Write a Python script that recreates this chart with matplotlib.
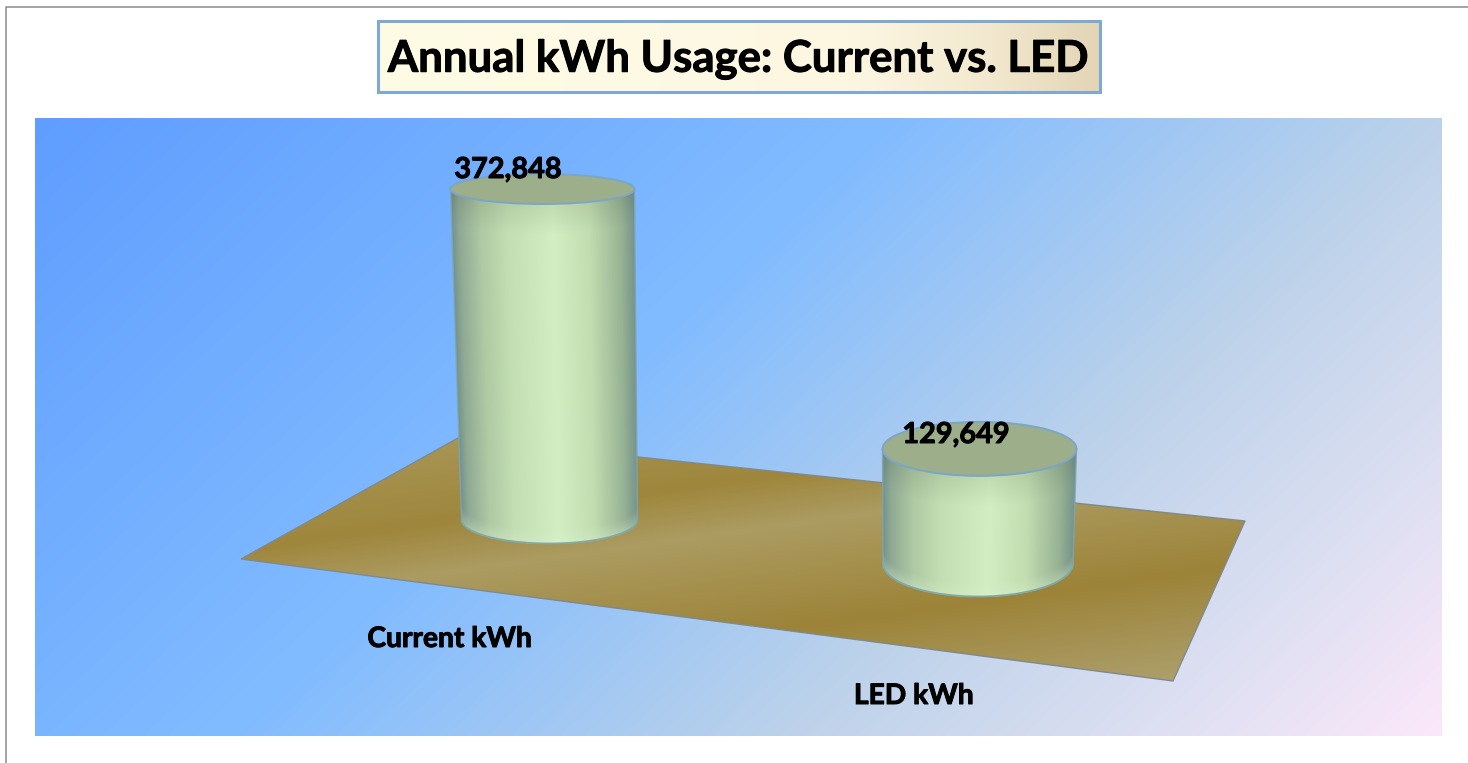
#!/usr/bin/env python

import numpy as np
import matplotlib
matplotlib.use('Agg')
from matplotlib import pyplot as plt
from matplotlib import patheffects
from matplotlib.colors import to_rgb
from matplotlib.patches import Ellipse, Polygon, Rectangle

categories = ['Current kWh', 'LED kWh']
kwh_values = [372848, 129649]
chart_title = 'Annual kWh Usage: Current vs. LED'

W, H = 1468, 763
PX_PER_KWH = 331 / 372848

# cylinder geometry in pixels, base centre x/y and half sizes
base_cx = [549.5, 978]
base_cy = [520, 564]
base_rx = [88, 95]
base_ry = [24, 33]
top_cx = [542.5, 979.5]
top_rx = [92, 97]
top_ry = [15, 27]

BOLDER = [patheffects.withStroke(linewidth=0.7, foreground='black')]


def Ramp(t, stops, colors):
    rgb = np.array([to_rgb(c) for c in colors])
    return np.dstack([np.interp(t, stops, rgb[:, i]) for i in range(3)])


def Paint(axe, rgb, x0, x1, y0, y1, clip=None, zorder=1):
    im = axe.imshow(rgb, extent=(x0, x1, y1, y0), aspect='auto',
                    interpolation='bilinear', zorder=zorder)
    if clip is not None:
        im.set_clip_path(clip)
    return im


def DrawBackground(axe):
    x0, x1, y0, y1 = 35, 1442, 118, 736
    xx, yy = np.meshgrid(np.arange(x0, x1), np.arange(y0, y1))
    t = (xx - x0) + 1.07 * (yy - y0)
    t = t / t.max()
    rgb = Ramp(t, [0, 0.42, 0.68, 0.85, 1],
               ['#5f9dff', '#82bcff', '#bcd2ea', '#dcdff2', '#fce8fa'])
    Paint(axe, rgb, x0, x1, y0, y1)


def DrawTitle(axe):
    x0, x1, y0, y1 = 378, 1100, 21, 92
    xx, yy = np.meshgrid(np.arange(x0, x1), np.arange(y0, y1))
    t = (xx - x0) / (x1 - x0)
    rgb = Ramp(t, [0, 0.65, 0.85, 1], ['#fffce6', '#fdf7e2', '#f2e8cf', '#e3d5b5'])
    Paint(axe, rgb, x0, x1, y0, y1, zorder=2)
    axe.add_patch(Rectangle((x0, y0), x1 - x0, y1 - y0, fill=False,
                            ec='#7fa9d3', lw=2.2, zorder=3))
    axe.text(738, 59, chart_title, ha='center', va='center', fontsize=31.5,
             fontweight='bold', family='Lato', color='black', zorder=4,
             path_effects=BOLDER)


def DrawFloor(axe):
    corners = [(241, 559), (458, 438), (1245, 521), (1173, 681)]
    xx, yy = np.meshgrid(np.arange(235, 1250), np.arange(432, 686))
    v = yy + 0.14 * (xx - 241)
    rgb = Ramp(v, [440, 550, 600, 705, 810],
               ['#ab9b5c', '#9e863c', '#ac9c62', '#9c8338', '#ad9f6c'])
    clip = Polygon(corners, closed=True, transform=axe.transData)
    Paint(axe, rgb, 235, 1250, 432, 686, clip=clip, zorder=2)
    axe.add_patch(Polygon(corners, closed=True, fill=False, ec='#7f8a8c', lw=1.0, zorder=3))


def DrawCylinder(axe, i, value):
    base_y = base_cy[i]
    top_y = base_y - value * PX_PER_KWH
    ys = np.arange(int(top_y) - 2, base_y + base_ry[i] + 3)
    frac = np.clip((ys - top_y) / (base_y - top_y), 0, 1)
    cx = top_cx[i] + frac * (base_cx[i] - top_cx[i])
    rx = top_rx[i] + frac * (base_rx[i] - top_rx[i])
    x0 = int(min(top_cx[i] - top_rx[i], base_cx[i] - base_rx[i])) - 3
    x1 = int(max(top_cx[i] + top_rx[i], base_cx[i] + base_rx[i])) + 3
    xx, yy = np.meshgrid(np.arange(x0, x1), ys)
    cx2 = np.interp(yy, ys, cx)
    rx2 = np.interp(yy, ys, rx)
    u = (xx - (cx2 - rx2)) / (2 * rx2)
    rgb = Ramp(u, [0, 0.04, 0.16, 0.3, 0.55, 0.75, 0.92, 1],
               ['#74948a', '#8fa994', '#afcaa4', '#c2deb2', '#d3eec2', '#c2ddb0', '#98b394', '#74928a'])
    # shade falling off under the lid
    dist = yy - top_y - top_ry[i] * np.sqrt(np.clip(1 - ((xx - top_cx[i]) / top_rx[i]) ** 2, 0, 1))
    shade = np.clip(1 - dist / 30, 0, 1)[:, :, None] * 0.08
    rgb = rgb * (1 - shade)
    # light rim at the foot
    foot_d = base_y + base_ry[i] * np.sqrt(np.clip(1 - ((xx - base_cx[i]) / base_rx[i]) ** 2, 0, 1)) - yy
    rim = np.clip(1 - foot_d / 14, 0, 1)[:, :, None] * 0.35
    rgb = rgb * (1 - rim) + np.array(to_rgb('#d9f2d0')) * rim

    # outline: round the foot and back over the lid
    a = np.linspace(0, np.pi, 80)
    foot = np.column_stack([base_cx[i] + base_rx[i] * np.cos(a), base_y + base_ry[i] * np.sin(a)])
    b = np.linspace(np.pi, 2 * np.pi, 80)
    lid = np.column_stack([top_cx[i] + top_rx[i] * np.cos(b), top_y + top_ry[i] * np.sin(b)])
    outline = np.vstack([foot, lid])
    clip = Polygon(outline, closed=True, transform=axe.transData)
    Paint(axe, rgb, x0, x1, ys[0], ys[-1], clip=clip, zorder=4)
    axe.plot(foot[:, 0], foot[:, 1] - 0.5, color='#7fa8a8', lw=1.3, zorder=5)
    for side in (-1, 1):
        axe.plot([top_cx[i] + side * top_rx[i], base_cx[i] + side * base_rx[i]],
                 [top_y, base_y], color='#7fa5b5', lw=1.1, alpha=0.8, zorder=5)
    axe.add_patch(Ellipse((top_cx[i], top_y), 2 * top_rx[i], 2 * top_ry[i],
                          fc='#9dae8b', ec='#7ba6c6', lw=1.4, zorder=6))


def MakePlot():
    fig = plt.figure(figsize=(W / 100, H / 100), dpi=100)
    axe = fig.add_axes([0, 0, 1, 1])
    axe.plot([5.5, 5.5, W], [H, 6.5, 6.5], color='#8a8a8a', lw=1.1, zorder=1)
    DrawBackground(axe)
    DrawTitle(axe)
    DrawFloor(axe)
    for i, value in enumerate(kwh_values):
        DrawCylinder(axe, i, value)

    label_xy = [(508, 170), (956, 435)]
    cat_xy = [(450, 639), (914, 696)]
    for i, value in enumerate(kwh_values):
        axe.text(label_xy[i][0], label_xy[i][1], f'{value:,}', ha='center', va='center',
                 fontsize=20.8, fontweight='bold', family='Lato', color='black', zorder=7,
                 path_effects=BOLDER)
        axe.text(cat_xy[i][0], cat_xy[i][1], categories[i], ha='center', va='center',
                 fontsize=20.3, fontweight='bold', family='Lato', color='black', zorder=7,
                 path_effects=BOLDER)

    axe.set_xlim(0, W)
    axe.set_ylim(H, 0)
    axe.axis('off')
    fig.savefig('out.png', dpi=100)


def main():
    MakePlot()


if __name__ == '__main__':
    main()
